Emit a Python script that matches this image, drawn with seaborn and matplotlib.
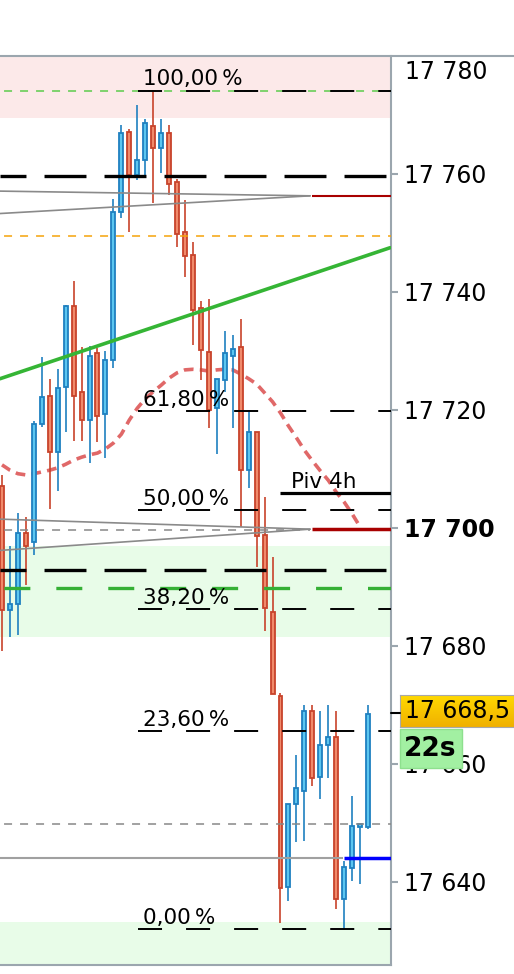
import numpy as np
import pandas as pd
import matplotlib
matplotlib.use('Agg')
import matplotlib.pyplot as plt
import seaborn as sns
from matplotlib.patches import Rectangle
from matplotlib.lines import Line2D

# candles (OHLC), one per bar
opens = [17707.2, 17686.1, 17687.1, 17699.1, 17697.6, 17717.6, 17722.4, 17712.8, 17723.9, 17737.7,
         17723.1, 17718.3, 17729.6, 17719.3, 17728.5, 17753.5, 17767.2, 17759.9, 17762.4, 17768.2,
         17764.4, 17766.9, 17758.7, 17750.2, 17746.2, 17737.3, 17729.9, 17720.3, 17725.1, 17729.2,
         17730.6, 17709.8, 17716.3, 17698.8, 17685.8, 17671.6, 17639.2, 17653.2, 17655.5, 17669.0,
         17657.8, 17663.3, 17664.5, 17637.2, 17642.3, 17649.3, 17649.4]
highs = [17709.0, 17697.0, 17702.5, 17701.8, 17718.2, 17728.9, 17725.3, 17726.9, 17737.8, 17741.9,
         17730.6, 17730.9, 17730.5, 17730.0, 17755.8, 17768.3, 17767.6, 17771.7, 17769.3, 17774.1,
         17769.3, 17768.3, 17759.1, 17755.6, 17748.5, 17738.4, 17738.8, 17725.2, 17733.4, 17732.7,
         17735.4, 17719.7, 17716.3, 17705.3, 17695.0, 17672.0, 17653.3, 17661.5, 17670.0, 17670.0,
         17669.0, 17670.0, 17669.0, 17643.6, 17654.5, 17649.6, 17670.0]
lows = [17679.2, 17681.6, 17681.9, 17690.3, 17695.4, 17717.2, 17703.2, 17706.3, 17716.2, 17714.8,
        17714.8, 17711.1, 17714.5, 17711.8, 17727.1, 17752.5, 17750.1, 17759.0, 17759.3, 17755.1,
        17760.2, 17756.4, 17747.7, 17742.6, 17731.0, 17725.1, 17716.9, 17712.5, 17723.0, 17716.9,
        17700.2, 17706.7, 17693.4, 17682.6, 17671.9, 17633.1, 17636.8, 17646.7, 17647.0, 17656.2,
        17654.1, 17657.6, 17635.5, 17632.0, 17640.2, 17639.7, 17649.0]
closes = [17686.1, 17687.2, 17699.1, 17697.0, 17717.7, 17722.2, 17712.8, 17723.8, 17737.7, 17722.3,
          17718.3, 17729.2, 17719.0, 17728.5, 17753.6, 17766.9, 17759.9, 17762.4, 17768.6, 17764.4,
          17766.9, 17758.3, 17749.8, 17746.1, 17736.9, 17730.2, 17720.0, 17725.2, 17729.6, 17730.3,
          17709.8, 17716.3, 17698.6, 17686.4, 17671.9, 17638.9, 17653.3, 17656.0, 17669.0, 17657.6,
          17663.2, 17664.5, 17637.2, 17642.5, 17649.5, 17649.6, 17668.5]

# moving average (red dotted curve)
ma_values = [17710.7, 17709.8, 17709.2, 17709.0, 17709.2, 17709.5, 17709.8, 17710.2, 17710.8, 17711.5,
             17712.0, 17712.4, 17712.7, 17713.4, 17714.4, 17715.9, 17718.3, 17720.3, 17721.9, 17723.1,
             17724.2, 17725.4, 17726.3, 17726.8, 17726.9, 17726.8, 17726.6, 17726.8, 17726.9, 17726.8,
             17726.1, 17725.3, 17724.4, 17722.9, 17721.4, 17719.5, 17717.3, 17715.3, 17713.2, 17711.4,
             17709.7, 17708.1, 17706.1, 17704.4, 17702.4, 17700.2]

# fibonacci retracement
fib_low, fib_high = 17632.0, 17774.1
fib_ratios = [1.0, 0.618, 0.5, 0.382, 0.236, 0.0]
fib_labels = ['100,00\u2009%', '61,80\u2009%', '50,00\u2009%', '38,20\u2009%', '23,60\u2009%', '0,00\u2009%']

# horizontal levels
black_levels = [17759.7, 17692.9]
green_level = 17689.8
orange_level = 17749.5
gray_dash_levels = [17699.7, 17649.8]
support_level = 17644.0
pivot_level = 17705.9
darkred_levels = [17756.3, 17699.8]

# converging gray lines (start, end)
conv_lines = [(17757.1, 17756.3), (17753.3, 17756.3), (17701.5, 17699.8), (17696.2, 17699.8)]
trend_start, trend_end = 17725.3, 17747.5

price_ticks = [17640, 17660, 17680, 17700, 17720, 17740, 17760]
last_price = '17 668,5'
countdown = '22s'

RED_E, RED_F = '#c8432b', '#f08a6b'
BLUE_E, BLUE_F = '#1f80c0', '#5cc6f0'
AXIS_GRAY = '#9ba6ae'

sns.set_style('white')
plt.rcParams['font.family'] = ['DejaVu Sans']
plt.rcParams['text.color'] = 'black'
plt.rcParams['lines.scale_dashes'] = False

fig = plt.figure(figsize=(5.14, 9.74), dpi=100)
ax = fig.add_axes([0, 1 - 965 / 974, 391 / 514, (965 - 56) / 974])


def px(x):
    # pixel column -> bar index
    return (x - 2) / 7.957


ax.set_xlim(px(0), px(391))
ax.set_ylim(17625.93, 17780.0)

# zones
ax.axhspan(17769.5, 17780.0, color='#fce9e9', lw=0, zorder=0)
ax.axhspan(17681.5, 17697.0, color='#e8fce8', lw=0, zorder=0)
ax.axhspan(17625.0, 17633.2, color='#e8fce8', lw=0, zorder=0)

# moving average behind candles
idx = np.arange(len(opens))
sns.lineplot(x=idx[:len(ma_values)], y=ma_values, ax=ax, color='#e06868', lw=2.6,
             linestyle=(0, (7, 4.5)), zorder=2)

# candles
df = pd.DataFrame({'o': opens, 'h': highs, 'l': lows, 'c': closes})
up = df.c >= df.o
edge = np.where(up, BLUE_E, RED_E)
fill = np.where(up, BLUE_F, RED_F)
ax.vlines(idx, df.l, df.h, colors=edge, lw=1.2, zorder=3)
body = np.maximum((df.c - df.o).abs(), 0.5)
ax.bar(idx, body, bottom=np.minimum(df.o, df.c), width=0.5, color=fill,
       edgecolor=edge, linewidth=1.3, zorder=3.5)

# thin dashed levels
ax.axhline(fib_high, color='#5ccc4c', lw=1.1, linestyle=(8.6, (5.76, 5.76)), zorder=4)
ax.axhline(orange_level, color='#f5a30a', lw=1.1, linestyle=(8.6, (5.76, 5.76)), zorder=4)
ax.hlines(gray_dash_levels[0], px(0), px(310), color='#888888', lw=1.1,
          linestyle=(8.6, (5.76, 5.76)), zorder=4)
ax.axhline(gray_dash_levels[1], color='#888888', lw=1.1, linestyle=(8.6, (5.76, 5.76)), zorder=4)

# thick dashed levels
for lv in black_levels:
    ax.axhline(lv, color='black', lw=2.4, linestyle=(11.5, (30.2, 13)), zorder=5)
ax.axhline(green_level, color='#35b035', lw=2.4, linestyle=(34.6, (18.7, 18.7)), zorder=5)

# converging lines
for a, b in conv_lines:
    ax.plot([px(0), px(310)], [a, b], color='#8a8a8a', lw=1.2, zorder=5)
for lv, w in zip(darkred_levels, [1.5, 2.5]):
    ax.hlines(lv, px(312), px(391), color='#a80000', lw=w, zorder=5)

# support line + blue segment
ax.hlines(support_level, px(0), px(343), color='#a0a0a0', lw=1.5, zorder=5)
ax.hlines(support_level, px(344), px(391), color='#0000ff', lw=2.5, zorder=5)

# trend line
sns.lineplot(x=[px(0), px(390)], y=[trend_start, trend_end], ax=ax, color='#35b535', lw=2.6, zorder=6)

# fibonacci levels
for r, lab in zip(fib_ratios, fib_labels):
    lv = fib_low + r * (fib_high - fib_low)
    ax.hlines(lv, px(138), px(391), color='black', lw=1.4, linestyle=(0, (17.3, 17.3)), zorder=6)
    ax.text(px(143), lv + 0.9, lab, fontsize=15.5, va='baseline', ha='left', zorder=7)

# pivot
ax.hlines(pivot_level, px(280), px(391), color='black', lw=2.3, zorder=6)
ax.text(px(291), pivot_level + 0.9, 'Piv 4h', fontsize=15.5, va='baseline', ha='left', zorder=7)

# axes styling
for s in ['left', 'top']:
    ax.spines[s].set_visible(False)
for s in ['right', 'bottom']:
    ax.spines[s].set_color(AXIS_GRAY)
    ax.spines[s].set_linewidth(1.5)
ax.yaxis.tick_right()
ax.set_yticks(price_ticks)
ax.set_yticklabels(['{:,}'.format(t).replace(',', ' ') for t in price_ticks], fontsize=17)
for t, lbl in zip(price_ticks, ax.get_yticklabels()):
    if t == 17700:
        lbl.set_fontweight('bold')
ax.tick_params(axis='y', length=5, width=1.5, color=AXIS_GRAY, pad=4.5, labelcolor='black')
ax.set_xticks([px(42), px(280)])
ax.set_xticklabels([])
ax.tick_params(axis='x', length=5, width=1.5, color=AXIS_GRAY, direction='out')
ax.set_xlabel('')
ax.set_ylabel('')

# top border across full width
fig.add_artist(Line2D([0, 1], [1 - 56 / 974] * 2, color=AXIS_GRAY, lw=1.5, transform=fig.transFigure))
fig.text(405 / 514, 1 - 72 / 974, '17 780', fontsize=17, va='center', ha='left')

# last price marker
fig.add_artist(Line2D([391 / 514, 400 / 514], [1 - 713 / 974] * 2, color='black', lw=1.5,
                      transform=fig.transFigure))
bax = fig.add_axes([400 / 514, 1 - 727 / 974, 114 / 514, 32 / 974])
grad = np.linspace(0, 1, 50).reshape(-1, 1)
bax.imshow(grad, aspect='auto', cmap=matplotlib.colors.LinearSegmentedColormap.from_list(
    'g', ['#ffd900', '#f0b000']), extent=[0, 1, 0, 1])
bax.set_xticks([])
bax.set_yticks([])
for s in bax.spines.values():
    s.set_color('#a8a8a8')
bax.text(5 / 114, 0.5, last_price, fontsize=17, va='center', ha='left', transform=bax.transAxes)

fig.add_artist(Rectangle((400 / 514, 1 - 768 / 974), 62 / 514, 39 / 974, transform=fig.transFigure,
                         facecolor='#a2f0a2', edgecolor='#8ee08e', lw=1, zorder=10))
fig.text(404 / 514, 1 - 749 / 974, countdown, fontsize=19, fontweight='bold', va='center',
         ha='left', zorder=11)

fig.savefig('out.png', dpi=100)
